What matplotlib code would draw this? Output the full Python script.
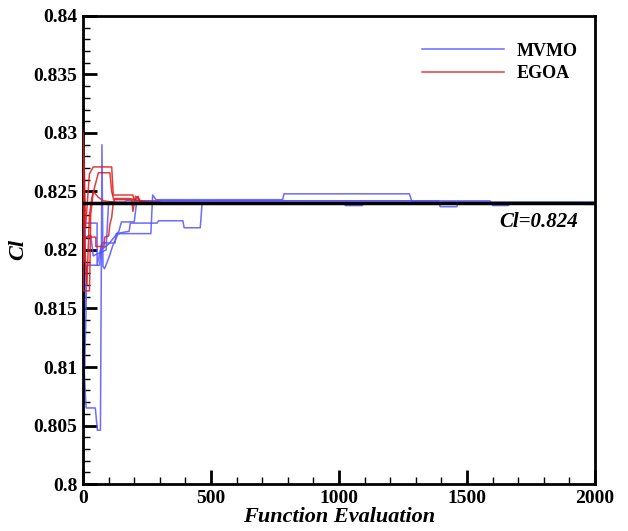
import matplotlib
matplotlib.use("Agg")
import matplotlib.pyplot as plt
from matplotlib.ticker import MultipleLocator, FuncFormatter

# ---------------- data ----------------
# MVMO runs (Function evaluation, Cl)
mv1_x = [0, 5, 12, 48, 56, 68, 74, 78, 84, 95, 105, 115, 125, 135, 145, 265, 272, 285, 780, 785, 1275, 1285, 2000]
mv1_y = [0.8125, 0.8095, 0.8065, 0.8065, 0.8046, 0.8046, 0.8290, 0.8186, 0.8184, 0.8190, 0.8196, 0.8203, 0.8208,
         0.8213, 0.8214, 0.8214, 0.8247, 0.8243, 0.8243, 0.8248, 0.8248, 0.8241, 0.8241]

mv2_x = [0, 8, 8, 55, 55, 74, 125, 130, 180, 185, 290, 295, 390, 395, 458, 465, 1020, 1025, 1090, 1100, 2000]
mv2_y = [0.8150, 0.8150, 0.8223, 0.8223, 0.8187, 0.8206, 0.8206, 0.8214, 0.8216, 0.8223, 0.8223, 0.8225, 0.8225,
         0.8219, 0.8219, 0.8240, 0.8240, 0.8238, 0.8238, 0.8240, 0.8240]

mv3_x = [0, 3, 6, 10, 15, 65, 70, 100, 140, 150, 200, 210, 240, 1390, 1395, 1460, 1465, 2000]
mv3_y = [0.8200, 0.8120, 0.8100, 0.8130, 0.8187, 0.8187, 0.8200, 0.8205, 0.8216, 0.8224, 0.8224, 0.8242, 0.8242,
         0.8242, 0.8237, 0.8237, 0.8240, 0.8239]

mv4_x = [0, 5, 5, 30, 40, 90, 100, 160, 170, 1590, 1600, 1660, 1670, 2000]
mv4_y = [0.8080, 0.8080, 0.8210, 0.8213, 0.8195, 0.8200, 0.8241, 0.8241, 0.8242, 0.8242, 0.8238, 0.8238, 0.8240, 0.8240]

# EGOA runs
eg1_x = [0, 5, 10, 20, 25, 40, 112, 118, 195, 200, 215, 222, 260, 300]
eg1_y = [0.8300, 0.8270, 0.8220, 0.8250, 0.8265, 0.8271, 0.8271, 0.8247, 0.8247, 0.8242, 0.8246, 0.8241, 0.8241, 0.8241]

eg2_x = [0, 8, 15, 25, 35, 60, 105, 112, 120, 190, 195, 205, 230, 240, 290]
eg2_y = [0.8280, 0.8200, 0.8170, 0.8230, 0.8245, 0.8266, 0.8266, 0.8250, 0.8243, 0.8243, 0.8233, 0.8246, 0.8241,
         0.8240, 0.8240]

eg3_x = [0, 5, 5, 50, 50, 82, 85, 100, 105, 112, 118, 125, 180, 250]
eg3_y = [0.8250, 0.8190, 0.8211, 0.8211, 0.8203, 0.8203, 0.8211, 0.8212, 0.8222, 0.8228, 0.8240, 0.8244, 0.8244, 0.8241]

eg4_x = [0, 2, 2, 25, 27, 30, 40, 60, 80, 150, 280]
eg4_y = [0.8210, 0.8165, 0.8165, 0.8165, 0.8185, 0.8230, 0.8250, 0.8245, 0.8242, 0.8240, 0.8240]

target_cl = 0.824
x_range = [0, 2000]
y_range = [0.8, 0.84]
x_ticks = [0, 500, 1000, 1500, 2000]
y_ticks = [0.8, 0.805, 0.81, 0.815, 0.82, 0.825, 0.83, 0.835, 0.84]

# ---------------- plot ----------------
plt.rcParams['font.family'] = ['Liberation Serif', 'DejaVu Serif']
plt.rcParams['font.weight'] = 'bold'

fig = plt.figure(figsize=(6.28, 5.31), dpi=100)
ax = fig.add_axes([0.1322, 0.0885, 0.8153, 0.8814])

blue = (0.32, 0.32, 1.0)
red = (0.88, 0.10, 0.10)

mv_runs = [(mv1_x, mv1_y), (mv2_x, mv2_y), (mv3_x, mv3_y), (mv4_x, mv4_y)]
eg_runs = [(eg1_x, eg1_y), (eg2_x, eg2_y), (eg3_x, eg3_y), (eg4_x, eg4_y)]

for i, (xs, ys) in enumerate(mv_runs):
    ax.plot(xs, ys, color=blue, lw=1.1, alpha=0.85, label='MVMO' if i == 0 else None, zorder=2)
for i, (xs, ys) in enumerate(eg_runs):
    ax.plot(xs, ys, color=red, lw=1.1, alpha=0.85, label='EGOA' if i == 0 else None, zorder=3)

ax.plot(x_range, [target_cl, target_cl], color='black', lw=2.5, zorder=4)
ax.text(1935, 0.8224, 'Cl=0.824', fontsize=15, fontweight='bold', fontstyle='italic',
        ha='right', va='center')

ax.set_xlim(x_range)
ax.set_ylim(y_range)
ax.set_xticks(x_ticks)
ax.set_yticks(y_ticks)
ax.xaxis.set_minor_locator(MultipleLocator(100))
ax.yaxis.set_minor_locator(MultipleLocator(0.001))
ax.yaxis.set_major_formatter(FuncFormatter(lambda v, p: ('%.3f' % v).rstrip('0').rstrip('.')))

ax.tick_params(which='major', direction='in', length=10, width=2, labelsize=14, top=False, right=False, pad=4)
ax.tick_params(which='minor', direction='in', length=5, width=1, top=False, right=False)
for lab in ax.get_xticklabels() + ax.get_yticklabels():
    lab.set_fontweight('bold')
for sp in ax.spines.values():
    sp.set_linewidth(2)

ax.set_xlabel('Function Evaluation', fontsize=16, fontweight='bold', fontstyle='italic', labelpad=0)
ax.set_ylabel('Cl', fontsize=16, fontweight='bold', fontstyle='italic', labelpad=4)

leg = ax.legend(loc='upper right', frameon=False, fontsize=13, handlelength=4.5,
                bbox_to_anchor=(0.997, 0.978), labelspacing=0.3, handletextpad=0.7)
for t in leg.get_texts():
    t.set_fontweight('bold')

fig.savefig('out.png', dpi=100)
